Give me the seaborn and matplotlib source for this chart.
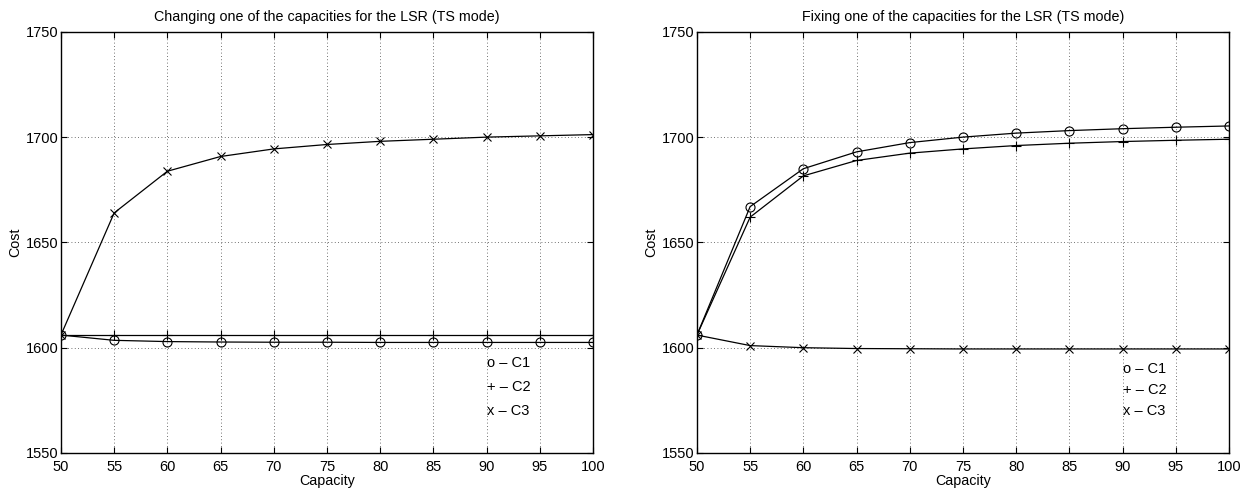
import matplotlib
matplotlib.use("Agg")
import matplotlib.pyplot as plt
import numpy as np
import pandas as pd
import seaborn as sns

# Capacity values on the x axis
capacity = [50, 55, 60, 65, 70, 75, 80, 85, 90, 95, 100]

# Changing one of the capacities
change_c1 = [1606, 1603.5, 1602.9, 1602.7, 1602.6, 1602.6, 1602.5, 1602.5, 1602.5, 1602.5, 1602.5]
change_c2 = [1606, 1606, 1606, 1606, 1606, 1606, 1606, 1606, 1606, 1606, 1606]
change_c3 = [1606, 1664, 1683.8, 1690.8, 1694.4, 1696.5, 1698, 1699, 1700, 1700.6, 1701.2]

# Fixing one of the capacities
fix_c1 = [1606, 1667, 1685, 1693, 1697.4, 1700, 1701.9, 1703.1, 1704, 1704.7, 1705.3]
fix_c2 = [1606, 1662, 1681.6, 1688.9, 1692.4, 1694.4, 1696, 1697.1, 1697.9, 1698.5, 1699]
fix_c3 = [1606, 1601, 1600, 1599.6, 1599.5, 1599.4, 1599.4, 1599.4, 1599.4, 1599.4, 1599.4]

titles = ["Changing one of the capacities for the LSR (TS mode)",
          "Fixing one of the capacities for the LSR (TS mode)"]
series_names = ["C1", "C2", "C3"]
legend_labels = ["o \u2013 C1", "+ \u2013 C2", "x \u2013 C3"]
legend_y = [[1592.5, 1581.3, 1570], [1590, 1580, 1570]]

sns.set_style("white")
plt.rcParams["font.family"] = ["Liberation Sans", "DejaVu Sans"]
plt.rcParams["text.color"] = "black"
plt.rcParams["axes.labelcolor"] = "black"

fig = plt.figure(figsize=(12.49, 4.92), dpi=100)
ax_left = fig.add_axes([0.0488, 0.0793, 0.426, 0.856])
ax_right = fig.add_axes([0.558, 0.0793, 0.426, 0.856])

markers = {"C1": "o", "C2": "+", "C3": "x"}
msizes = {"C1": 6.5, "C2": 6.5, "C3": 6}
panels = [
    (ax_left, [change_c1, change_c2, change_c3]),
    (ax_right, [fix_c1, fix_c2, fix_c3]),
]

for i, (ax, data) in enumerate(panels):
    for name, vals in zip(series_names, data):
        df = pd.DataFrame({"Capacity": capacity, "Cost": vals})
        sns.lineplot(data=df, x="Capacity", y="Cost", color="black",
                     marker=markers[name], linewidth=0.9, markersize=msizes[name],
                     markerfacecolor="none", markeredgecolor="black",
                     markeredgewidth=0.8, ax=ax, zorder=3)
    ax.set_xlim(50, 100)
    ax.set_ylim(1550, 1750)
    ax.set_xticks(capacity)
    ax.set_yticks([1550, 1600, 1650, 1700, 1750])
    ax.grid(True, color="#444444", linestyle=(0, (1, 3)), linewidth=0.6)
    for sp in ax.spines.values():
        sp.set_color("black")
        sp.set_linewidth(1.0)
        sp.set_visible(True)
    ax.tick_params(direction="in", length=4, width=0.8, colors="black",
                   labelcolor="black", labelsize=10.5,
                   top=True, right=True, bottom=True, left=True, pad=2)
    ax.tick_params(axis="x", pad=5)
    ax.set_title(titles[i], fontsize=10.3, pad=8, color="black")
    ax.set_xlabel("Capacity", fontsize=10.3, labelpad=0)
    ax.set_ylabel("Cost", fontsize=10.3, labelpad=2)
    for lab, yv in zip(legend_labels, legend_y[i]):
        ax.text(90, yv, lab, fontsize=10.5, va="center", ha="left", color="black")

fig.savefig("out.png", dpi=100)
